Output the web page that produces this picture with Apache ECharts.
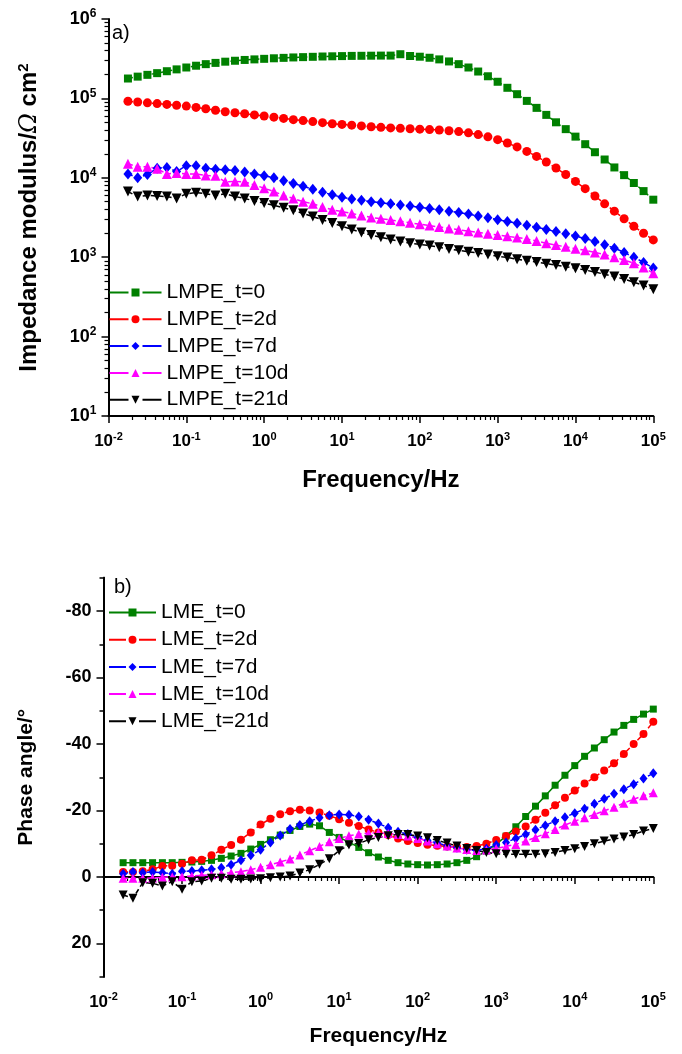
<!DOCTYPE html>
<html>
<head>
<meta charset="utf-8">
<script src="https://cdn.jsdelivr.net/npm/echarts@6/dist/echarts.min.js"></script>
<style>html,body{margin:0;padding:0;background:#fff}#c{width:682px;height:1054px}</style>
</head>
<body>
<div id="c"></div>
<script>
// ---------- DATA ----------
const freq = [0.01778, 0.02371, 0.03162, 0.04217, 0.05623, 0.07499,
  0.1, 0.1334, 0.1778, 0.2371, 0.3162, 0.4217, 0.5623, 0.7499,
  1, 1.334, 1.778, 2.371, 3.162, 4.217, 5.623, 7.499,
  10, 13.34, 17.78, 23.71, 31.62, 42.17, 56.23, 74.99,
  100, 133.4, 177.8, 237.1, 316.2, 421.7, 562.3, 749.9,
  1000, 1334, 1778, 2371, 3162, 4217, 5623, 7499,
  10000, 13340, 17780, 23710, 31620, 42170, 56230, 74990, 100000];

const namesA = ['LMPE_t=0', 'LMPE_t=2d', 'LMPE_t=7d', 'LMPE_t=10d', 'LMPE_t=21d'];
const namesB = ['LME_t=0', 'LME_t=2d', 'LME_t=7d', 'LME_t=10d', 'LME_t=21d'];

// |Z| (ohm cm2)
const zT0 = [1.78e5,1.88e5,1.98e5,2.08e5,2.2e5,2.32e5,2.45e5,2.58e5,2.7e5,2.8e5,
  2.9e5,2.98e5,3.05e5,3.1e5,3.15e5,3.2e5,3.24e5,3.28e5,3.31e5,3.34e5,
  3.37e5,3.39e5,3.41e5,3.43e5,3.44e5,3.45e5,3.46e5,3.46e5,3.6e5,3.42e5,
  3.35e5,3.25e5,3.1e5,2.92e5,2.7e5,2.45e5,2.18e5,1.9e5,1.62e5,1.36e5,
  1.13e5,9.3e4,7.6e4,6.2e4,5.0e4,4.1e4,3.3e4,2.65e4,2.1e4,1.7e4,
  1.35e4,1.08e4,8.6e3,6.8e3,5.3e3];
const zT2 = [9.2e4,9.0e4,8.8e4,8.6e4,8.4e4,8.2e4,8.0e4,7.7e4,7.4e4,7.1e4,
  6.8e4,6.6e4,6.4e4,6.2e4,6.0e4,5.8e4,5.6e4,5.4e4,5.25e4,5.1e4,
  4.95e4,4.8e4,4.7e4,4.6e4,4.5e4,4.4e4,4.32e4,4.25e4,4.2e4,4.15e4,
  4.1e4,4.05e4,4.0e4,3.92e4,3.82e4,3.68e4,3.5e4,3.28e4,3.02e4,2.74e4,
  2.45e4,2.15e4,1.86e4,1.58e4,1.33e4,1.1e4,9.0e3,7.3e3,5.9e3,4.7e3,
  3.8e3,3.05e3,2.45e3,2.0e3,1.65e3];
const zT7 = [1.12e4,1.0e4,1.1e4,1.32e4,1.35e4,1.2e4,1.42e4,1.42e4,1.32e4,1.28e4,
  1.26e4,1.24e4,1.18e4,1.12e4,1.06e4,1.0e4,9.2e3,8.5e3,7.8e3,7.2e3,
  6.6e3,6.1e3,5.7e3,5.4e3,5.2e3,5.0e3,4.85e3,4.7e3,4.55e3,4.4e3,
  4.25e3,4.1e3,3.95e3,3.8e3,3.65e3,3.5e3,3.3e3,3.13e3,2.97e3,2.82e3,
  2.68e3,2.52e3,2.38e3,2.24e3,2.1e3,1.98e3,1.85e3,1.72e3,1.58e3,1.44e3,
  1.3e3,1.15e3,1.0e3,860,730];
const zT10 = [1.5e4,1.38e4,1.38e4,1.3e4,1.12e4,1.15e4,1.12e4,1.12e4,1.07e4,1.06e4,
  8.9e3,9.0e3,8.9e3,8.1e3,7.4e3,6.7e3,6.0e3,5.5e3,5.0e3,4.7e3,
  4.3e3,3.95e3,3.75e3,3.56e3,3.35e3,3.17e3,3.05e3,2.95e3,2.83e3,2.72e3,
  2.6e3,2.5e3,2.4e3,2.3e3,2.22e3,2.13e3,2.05e3,1.97e3,1.9e3,1.83e3,
  1.77e3,1.7e3,1.6e3,1.5e3,1.42e3,1.35e3,1.28e3,1.22e3,1.15e3,1.08e3,
  1.0e3,920,840,740,630];
const zT21 = [6.7e3,5.8e3,6.0e3,5.9e3,5.8e3,5.5e3,6.3e3,6.5e3,6.3e3,6.0e3,
  6.3e3,5.8e3,5.5e3,5.1e3,4.8e3,4.5e3,4.2e3,3.9e3,3.55e3,3.25e3,
  2.95e3,2.7e3,2.45e3,2.24e3,2.05e3,1.9e3,1.78e3,1.67e3,1.58e3,1.5e3,
  1.45e3,1.4e3,1.33e3,1.27e3,1.22e3,1.17e3,1.13e3,1.08e3,1.03e3,990,
  945,905,870,830,795,760,725,690,650,610,
  570,530,485,440,395];

// phase angle (degrees)
const phT0 = [-4.3,-4.3,-4.3,-4.3,-4.3,-4.3,-4.4,-4.5,-4.7,-5.0,
  -5.6,-6.3,-7.1,-8.4,-9.8,-11.2,-12.6,-14.0,-15.2,-15.9,
  -15.4,-13.4,-11.9,-10.5,-8.9,-7.3,-6.0,-5.0,-4.3,-3.9,
  -3.7,-3.6,-3.7,-3.9,-4.3,-5.0,-6.1,-7.8,-9.9,-12.3,
  -15.1,-18.2,-21.3,-24.4,-27.6,-30.6,-33.5,-36.3,-38.8,-41.3,
  -43.6,-45.6,-47.4,-49.0,-50.5];
const phT2 = [-1.5,-1.5,-1.7,-2.3,-3.3,-3.4,-4.0,-5.0,-5.2,-6.5,
  -8.2,-9.6,-11.2,-13.4,-15.8,-17.5,-18.9,-19.8,-20.2,-20.0,
  -19.4,-18.4,-17.4,-16.3,-15.3,-14.3,-13.4,-12.6,-11.6,-10.8,
  -10.2,-9.7,-9.4,-9.2,-9.1,-9.0,-9.3,-10.0,-11.1,-12.3,
  -13.7,-15.2,-17.2,-19.3,-21.6,-23.8,-26.0,-28.1,-30.0,-32.0,
  -34.2,-37.0,-40.0,-43.0,-46.7];
const phT7 = [-1.0,-1.5,-1.3,-1.5,-1.3,-1.0,-1.7,-1.8,-2.0,-2.3,
  -2.8,-3.7,-5.0,-6.5,-8.2,-10.4,-12.5,-14.4,-15.6,-16.8,
  -17.8,-18.6,-18.8,-18.7,-18.2,-17.2,-16.1,-14.8,-13.6,-12.9,
  -11.9,-11.0,-10.2,-9.4,-8.8,-8.2,-8.0,-8.5,-9.6,-10.4,
  -11.6,-12.8,-14.2,-15.5,-16.8,-18.0,-19.2,-20.5,-22.0,-23.5,
  -25.0,-26.4,-27.9,-29.6,-31.2];
const phT10 = [0.4,0.4,0.4,0.3,0.1,0.0,-0.1,-0.3,-0.5,-0.7,
  -1.0,-1.3,-1.6,-2.2,-2.9,-3.7,-4.5,-5.4,-6.6,-7.9,
  -9.2,-10.6,-11.6,-12.4,-12.9,-13.2,-13.3,-13.1,-12.8,-12.3,
  -11.6,-10.8,-10.0,-9.3,-8.7,-8.3,-8.0,-8.1,-8.6,-9.2,
  -9.8,-10.8,-11.9,-13.0,-14.3,-15.6,-16.8,-17.8,-18.8,-19.9,
  -21.0,-22.2,-23.4,-24.4,-25.3];
const phT21 = [5.4,6.4,1.7,1.9,2.7,1.4,3.7,1.4,1.2,0.4,
  0.4,0.7,0.7,0.6,0.5,0.2,0.0,-0.3,-1.2,-2.2,
  -3.8,-5.5,-7.9,-9.6,-10.1,-11.2,-11.9,-12.4,-12.8,-12.8,
  -12.3,-11.8,-11.0,-10.2,-9.3,-8.6,-8.0,-7.4,-7.0,-6.8,
  -6.8,-6.8,-6.8,-7.0,-7.4,-8.0,-8.5,-9.2,-10.0,-10.8,
  -11.4,-12.0,-12.8,-13.8,-14.6];

// axis ticks
const phaseTicks = [-80, -60, -40, -20, 0, 20];
const phaseMinorTicks = [-90, -70, -50, -30, -10, 10, 30];

// ---------- STYLE ----------
const FONT = "'Liberation Sans', Arial, sans-serif";
const COLORS = ['#008000', '#ff0000', '#0000ff', '#ff00ff', '#000000'];
const SYMBOLS = ['rect', 'circle', 'diamond', 'triangle', 'triangle'];
const ROT = [0, 0, 0, 0, 180];
const SIZE_A = [8, 9, [9, 11], 10, 10];
const SIZE_B = [7, 8, [8, 10], 9, 9];
const DASH_B = ['solid', [5, 3], [5, 3], [5, 3], [5, 3]];

const zA = [zT0, zT2, zT7, zT10, zT21];
const phB = [phT0, phT2, phT7, phT10, phT21];

function powLabel(v) {
  const e = Math.round(Math.log10(v));
  return '{b|10}{s|' + e + '}';
}
function logRich(fs, ss) {
  return {
    b: { fontSize: fs, fontWeight: 'bold', fontFamily: FONT, color: '#000', lineHeight: fs + 4 },
    s: { fontSize: ss, fontWeight: 'bold', fontFamily: FONT, color: '#000', verticalAlign: 'top', lineHeight: ss + 2 }
  };
}
const axisLineStyle = { show: true, lineStyle: { color: '#000', width: 2 } };
const tickStyle = { color: '#000', width: 1.5 };

function logAxis(grid, isX, extra) {
  return Object.assign({
    type: 'log', logBase: 10, gridIndex: grid,
    axisLine: axisLineStyle,
    axisTick: { show: true, length: 7, inside: false, lineStyle: tickStyle },
    minorTick: { show: true, splitNumber: 9, length: 4, lineStyle: { color: '#000', width: 1.2 } },
    splitLine: { show: false }, minorSplitLine: { show: false },
    axisPointer: { show: false }
  }, extra);
}

const series = [];
for (let i = 0; i < 5; i++) {
  series.push({
    type: 'line', name: namesA[i], xAxisIndex: 0, yAxisIndex: 0,
    data: freq.map((f, k) => [f, zA[i][k]]),
    symbol: SYMBOLS[i], symbolRotate: ROT[i], symbolSize: SIZE_A[i], showAllSymbol: true,
    lineStyle: { color: COLORS[i], width: 1.5, type: [5, 3] },
    itemStyle: { color: COLORS[i] },
    silent: true, animation: false, emphasis: { disabled: true }
  });
}
for (let i = 0; i < 5; i++) {
  series.push({
    type: 'line', name: namesB[i], xAxisIndex: 1, yAxisIndex: 1,
    data: freq.map((f, k) => [f, phB[i][k]]),
    symbol: SYMBOLS[i], symbolRotate: ROT[i], symbolSize: SIZE_B[i], showAllSymbol: true,
    lineStyle: { color: COLORS[i], width: 1.5, type: DASH_B[i] },
    itemStyle: { color: COLORS[i] },
    silent: true, animation: false, emphasis: { disabled: true }
  });
}

const legendText = { fontSize: 21, fontFamily: FONT, color: '#000', lineHeight: 21 };

const option = {
  animation: false,
  backgroundColor: '#fff',
  grid: [
    { left: 108.5, top: 19, width: 544.8, height: 397, outerBoundsMode: 'none', containLabel: false },
    { left: 103.5, top: 577.8, width: 549.8, height: 398.9, outerBoundsMode: 'none', containLabel: false }
  ],
  xAxis: [
    logAxis(0, true, {
      min: 0.01, max: 100000,
      axisLabel: { formatter: powLabel, margin: 15, rich: logRich(17, 11) },
      name: 'Frequency/Hz', nameLocation: 'middle', nameGap: 52,
      nameTextStyle: { fontSize: 24, fontWeight: 'bold', fontFamily: FONT, color: '#000' }
    }),
    logAxis(1, true, {
      min: 0.01, max: 100000,
      axisLabel: { formatter: powLabel, margin: 15, rich: logRich(17, 11) },
      name: 'Frequency/Hz', nameLocation: 'middle', nameGap: 49,
      nameTextStyle: { fontSize: 21, fontWeight: 'bold', fontFamily: FONT, color: '#000' }
    })
  ],
  yAxis: [
    logAxis(0, false, {
      min: 10, max: 1000000, position: 'left',
      axisLabel: { formatter: powLabel, margin: 12, rich: logRich(18, 12) },
      name: '{t|Impedance modulus/}{o|Ω}{t| cm}{p|2}', nameLocation: 'middle', nameGap: 66,
      nameTextStyle: {
        color: '#000',
        rich: {
          t: { fontSize: 24, fontWeight: 'bold', fontFamily: FONT, color: '#000', lineHeight: 26 },
          o: { fontSize: 24, fontWeight: 'normal', fontStyle: 'italic', fontFamily: "'DejaVu Serif', serif", color: '#000', lineHeight: 26 },
          p: { fontSize: 15, fontWeight: 'bold', fontFamily: FONT, color: '#000', verticalAlign: 'top', lineHeight: 16 }
        }
      }
    }),
    {
      type: 'value', gridIndex: 1, min: -90, max: 30, inverse: true, position: 'left',
      axisLine: axisLineStyle,
      axisTick: { show: true, length: 7, customValues: phaseTicks, lineStyle: tickStyle },
      axisLabel: { show: true, customValues: phaseTicks, margin: 12, fontSize: 18, fontWeight: 'bold', fontFamily: FONT, color: '#000' },
      splitLine: { show: false },
      name: 'Phase angle/°', nameLocation: 'middle', nameGap: 67,
      nameTextStyle: { fontSize: 21, fontWeight: 'bold', fontFamily: FONT, color: '#000' }
    },
    {
      type: 'value', gridIndex: 1, min: -90, max: 30, inverse: true, position: 'left', offset: 0,
      axisLine: axisLineStyle,
      axisTick: { show: true, length: 4, customValues: phaseMinorTicks, lineStyle: tickStyle },
      axisLabel: { show: false },
      splitLine: { show: false }
    }
  ],
  legend: [
    {
      orient: 'vertical', left: 108.5, top: 282, padding: 0,
      itemWidth: 52, itemHeight: 10, itemGap: 5.8, selectedMode: false,
      textStyle: legendText,
      data: namesA.map((n) => ({ name: n, lineStyle: { type: [19, 14], width: 2 } }))
    },
    {
      orient: 'vertical', left: 108, top: 602, padding: 0,
      itemWidth: 47, itemHeight: 10, itemGap: 6.2, selectedMode: false,
      textStyle: legendText,
      data: namesB.map((n, i) => ({ name: n, lineStyle: { type: i === 0 ? 'solid' : [17, 13], width: 2 } }))
    }
  ],
  graphic: [
    { type: 'text', left: 112, top: 23, style: { text: 'a)', fontSize: 20, fontFamily: FONT, fill: '#000' } },
    { type: 'text', left: 114, top: 577, style: { text: 'b)', fontSize: 20, fontFamily: FONT, fill: '#000' } }
  ],
  series: series
};

const chart = echarts.init(document.getElementById('c'), null, { renderer: 'canvas' });
chart.setOption(option);
</script>
</body>
</html>
